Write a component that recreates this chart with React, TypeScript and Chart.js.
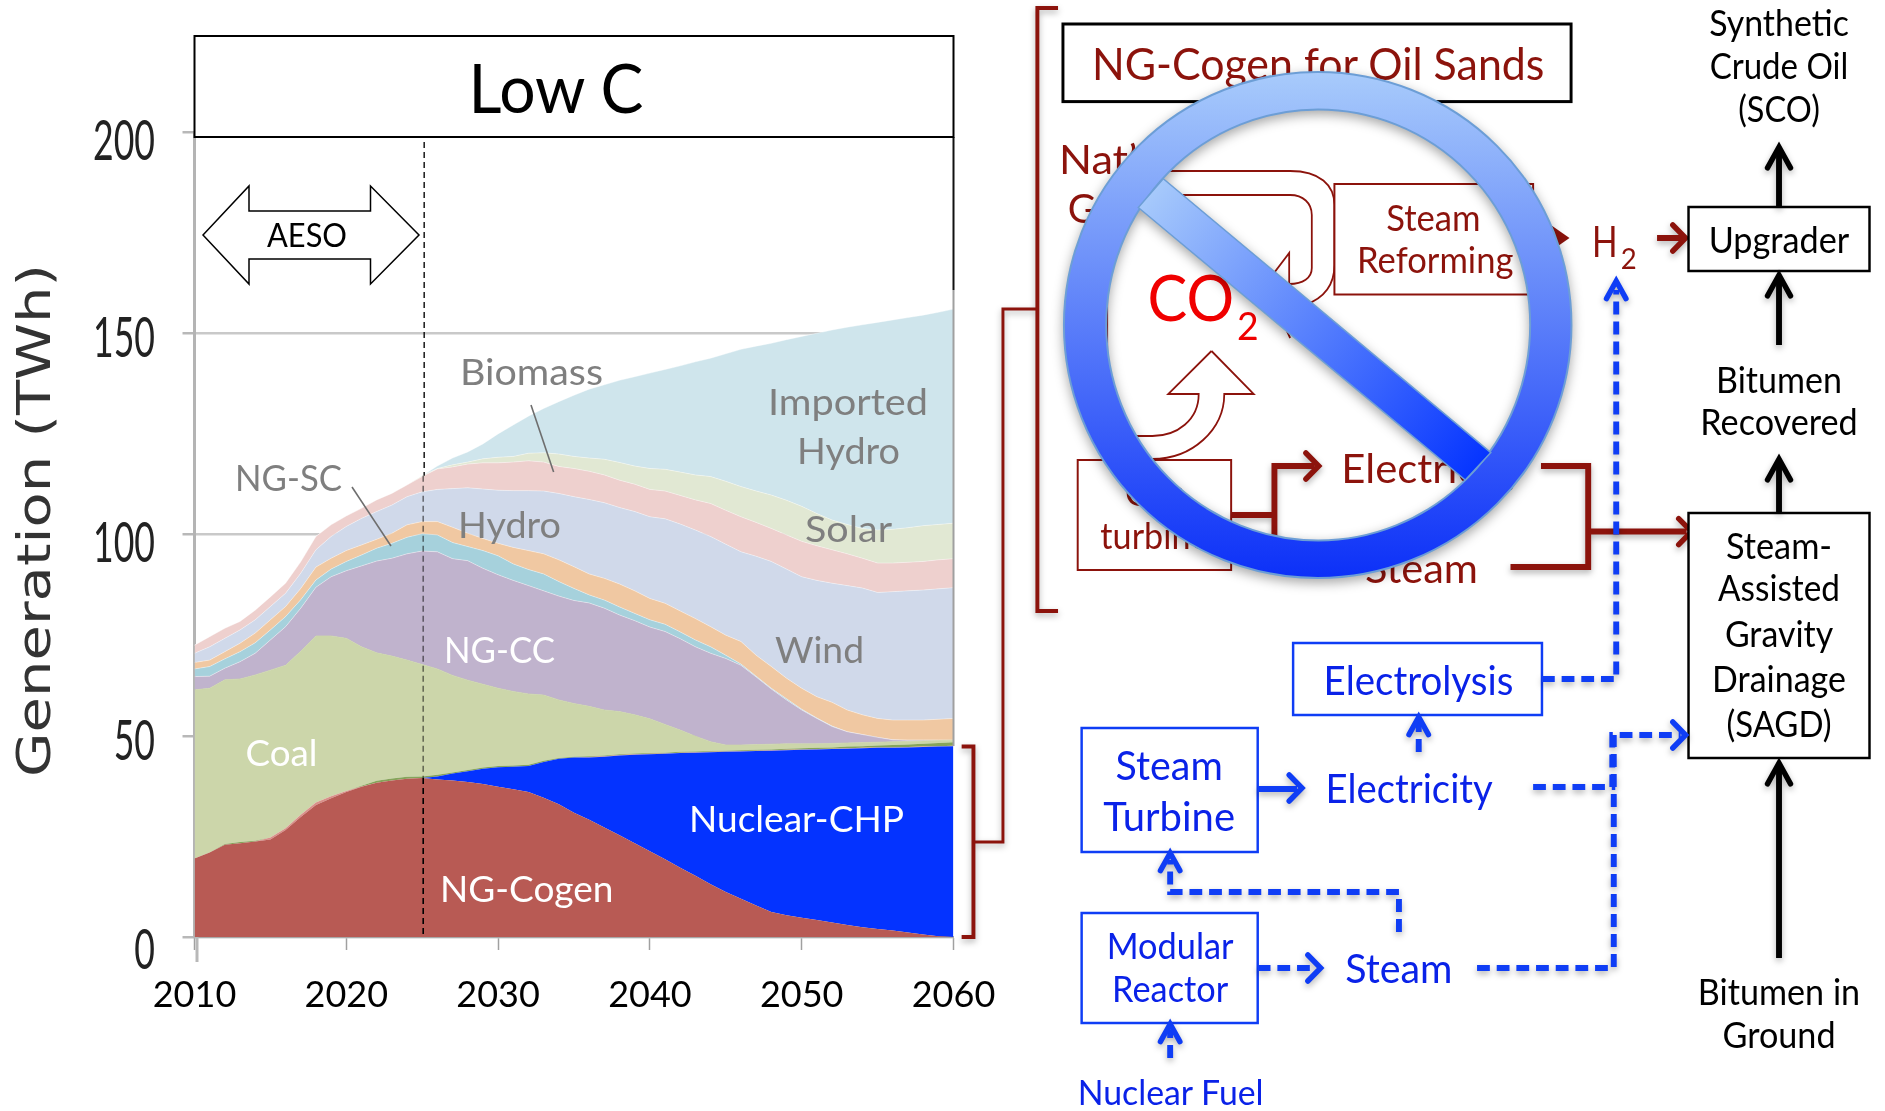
import React, { useEffect, useRef } from "react";
import { Chart, registerables } from "chart.js";

Chart.register(...registerables);

const years = [
  2010, 2011, 2012, 2013, 2014, 2015, 2016, 2017, 2018, 2019,
  2020, 2021, 2022, 2023, 2024, 2025, 2026, 2027, 2028, 2029,
  2030, 2031, 2032, 2033, 2034, 2035, 2036, 2037, 2038, 2039,
  2040, 2041, 2042, 2043, 2044, 2045, 2046, 2047, 2048, 2049,
  2050, 2051, 2052, 2053, 2054, 2055, 2056, 2057, 2058, 2059, 2060,
];

// Upper edge of each layer, in TWh
const ngCogenTop = [
  19.5, 21, 22.9, 23.3, 23.7, 24.2, 26.6, 29.8, 32.8, 34.5,
  36, 37.3, 38.3, 38.9, 39.3, 39.5, 39.1, 38.9, 38.5, 38,
  37.3, 36.7, 36, 34.6, 33, 30.9, 29.1, 27.2, 25.3, 23.3,
  21.3, 19.3, 17.2, 15.2, 13.1, 11.2, 9.5, 7.8, 6.2, 5.4,
  4.8, 4.2, 3.6, 3, 2.4, 2, 1.6, 1.1, 0.6, 0.2, 0,
];
const nuclearTop = [
  19.5, 21, 22.9, 23.3, 23.7, 24.2, 26.6, 29.8, 32.8, 34.5,
  36, 37.3, 38.3, 38.9, 39.3, 39.5, 39.9, 40.6, 41.2, 41.8,
  42.2, 42.3, 42.5, 43.5, 44.3, 44.6, 44.6, 44.8, 45.1, 45.3,
  45.4, 45.5, 45.7, 45.8, 45.9, 46, 46.1, 46.2, 46.3, 46.4,
  46.5, 46.6, 46.7, 46.8, 46.9, 47, 47, 47.1, 47.2, 47.3, 47.4,
];
const redBandTop = [
  19.5, 21, 22.9, 23.3, 23.7, 24.7, 27, 30.4, 33.4, 35,
  36.3, 37.4, 38.3, 38.9, 39.3, 39.5, 39.9, 40.6, 41.2, 41.8,
  42.2, 42.3, 42.5, 43.5, 44.3, 44.6, 44.7, 44.9, 45.2, 45.4,
  45.5, 45.6, 45.8, 45.9, 46, 46.1, 46.2, 46.3, 46.4, 46.5,
  46.6, 46.7, 46.8, 46.9, 47, 47.1, 47.1, 47.2, 47.3, 47.4, 47.5,
];
const greenBandTop = [
  19.5, 21, 23.1, 23.6, 23.9, 24.7, 27, 30.4, 33.4, 35,
  36.3, 37.6, 38.8, 39.4, 39.8, 39.9, 40.3, 40.9, 41.5, 42.1,
  42.5, 42.6, 42.8, 43.8, 44.5, 44.8, 44.9, 45.1, 45.4, 45.6,
  45.7, 45.8, 46, 46.1, 46.2, 46.3, 46.4, 46.5, 46.6, 46.8,
  46.9, 47, 47.1, 47.3, 47.4, 47.6, 47.7, 47.8, 48, 48.2, 48.4,
];
const coalTop = [
  61.4, 61.8, 63.9, 64.1, 65.1, 66.3, 67.5, 71, 74.8, 74.8,
  74.2, 72.1, 70.6, 69.8, 68.8, 67.7, 66.6, 65, 63.8, 62.8,
  61.8, 61, 60.4, 60.1, 58.9, 58, 57.3, 56.4, 56, 55.2,
  54.2, 52.8, 51.4, 49.9, 48.5, 47.7, 47.7, 47.8, 47.9, 48,
  48, 48, 48.1, 48.2, 48.3, 48.4, 48.5, 48.6, 48.7, 48.8, 48.9,
];
const ngCcTop = [
  64.7, 64.8, 66.8, 68.4, 70.5, 73.8, 77.1, 81.7, 86.9, 89.5,
  91, 92.2, 93.4, 94.1, 95.2, 95.9, 95.7, 94, 93.5, 91.6,
  90, 88.6, 87.3, 86, 84.7, 83.6, 83, 81.7, 80, 78.6,
  77, 75.9, 74.1, 72.1, 70.5, 69.2, 67.5, 64.6, 61.6, 58.9,
  56.4, 54.3, 52.3, 51, 50.3, 49.6, 49, 48.9, 48.9, 48.9, 48.9,
];
const ngScTop = [
  66.6, 67.2, 69.1, 70.9, 73.1, 76.3, 79.6, 83.8, 88.7, 91.4,
  93.3, 94.9, 96.6, 97.8, 99.3, 100.2, 99.9, 98, 97, 96,
  94.7, 92.7, 91.3, 90.2, 88.3, 86.6, 85, 83.7, 82, 80.4,
  78.8, 77.7, 75.8, 73.8, 72.1, 70, 67.8, 64.8, 61.8, 59.2,
  56.6, 54.4, 52.4, 51, 50.3, 49.6, 49, 48.9, 48.9, 48.9, 48.9,
];
const hydroTop = [
  68.2, 68.8, 70.9, 73, 75.5, 78.8, 82.1, 86.6, 91.9, 94.1,
  96, 97.4, 98.8, 100.3, 102.4, 103.2, 103.2, 101.8, 100.3, 99,
  97.8, 96.8, 96, 95.2, 93.7, 92, 90.2, 89.1, 87.7, 86,
  84.1, 82.9, 81, 79.1, 77.1, 75, 73.4, 70, 67.2, 64.3,
  61.8, 59.7, 58.3, 56.4, 55.2, 54.3, 53.9, 53.9, 53.9, 54.1, 54.3,
];
const windTop = [
  70.5, 72.1, 74.2, 76.3, 78.8, 82.1, 85.4, 90.4, 96.2, 99.5,
  102, 104, 105.7, 107.3, 109.4, 110.6, 111.2, 111.4, 111.6, 111.3,
  111, 110.9, 110.9, 110.8, 110.2, 109.4, 108.7, 107.9, 106.7, 105.7,
  104.4, 103.9, 102.6, 101.1, 99.5, 97.6, 95.7, 94.6, 93.3, 91.4,
  89.5, 88.6, 87.9, 87.3, 86.7, 85.6, 85.8, 86, 86.2, 86.5, 86.8,
];
const biomassTop = [
  72.5, 74.6, 76.7, 78.4, 81.2, 84.5, 87.9, 93.2, 99.5, 102.4,
  104.6, 106.5, 108.6, 110.2, 112.3, 114.4, 116.3, 116.8, 117.5, 117.8,
  117.8, 118, 118.3, 118, 116.9, 116.4, 115.7, 114.8, 113.5, 112.5,
  111.2, 110.8, 109.7, 108.6, 107.7, 106, 104.4, 103, 101.5, 99.9,
  98.3, 97.2, 96.2, 95.2, 94.1, 92.9, 92.9, 93.1, 93.3, 93.7, 94,
];
const solarTop = [
  72.5, 74.6, 76.7, 78.4, 81.2, 84.5, 87.9, 93.2, 99.5, 102.4,
  104.6, 106.5, 108.6, 110.2, 112.3, 114.6, 116.4, 117.3, 118, 118.8,
  119.2, 119.4, 120.2, 120.3, 120, 119.4, 119, 118.7, 117.9, 117,
  116.4, 116.2, 115.5, 114.8, 114.4, 113.2, 111.9, 110.8, 109.8, 108.5,
  107, 105.2, 103.6, 102.5, 101.5, 101.1, 101.3, 101.7, 102.2, 102.5, 102.8,
];
const importedHydroTop = [
  72.5, 74.6, 76.7, 78.4, 81.2, 84.5, 87.9, 93.2, 99.5, 102.4,
  104.6, 106.5, 108.6, 110.2, 112.3, 114.6, 117, 119, 120.5, 122.5,
  125, 127.2, 129.4, 131.3, 133, 134.6, 136.1, 137.2, 138.3, 139.2,
  140.1, 141, 141.9, 142.9, 143.8, 144.9, 146, 146.8, 147.5, 148.4,
  149.2, 150, 150.8, 151.5, 152.1, 152.7, 153.3, 153.9, 154.5, 155.2, 156,
];

const layers: [string, number[], string][] = [
  ["NG-Cogen", ngCogenTop, "#b85a54"],
  ["Nuclear-CHP", nuclearTop, "#0433ff"],
  ["Cogen retrofit", redBandTop, "#d98f89"],
  ["Other", greenBandTop, "#86a45a"],
  ["Coal", coalTop, "#ccd6aa"],
  ["NG-CC", ngCcTop, "#c0b3cd"],
  ["NG-SC", ngScTop, "#a6d1dc"],
  ["Hydro", hydroTop, "#f0c8a2"],
  ["Wind", windTop, "#d0d9ea"],
  ["Biomass", biomassTop, "#eed0ce"],
  ["Solar", solarTop, "#e1e8d3"],
  ["Imported Hydro", importedHydroTop, "#cfe5ec"],
];

const AESO_END_INDEX = 15;
const yAxisTicks = [0, 50, 100, 150, 200];
const yLabelDrop = [11, 4, 7, 3, 7];

const RED = "#8c130c";
const BLUE = "#0f3df5";
const TXT_BLUE = "#0a22e8";
const GREY = "#7f7f7f";
const FONT = "Lato, sans-serif";

type TProps = { x: number; y: number; w: number; size: number; fill?: string; children: React.ReactNode };
// x is the left edge of the text, w its width
function T({ x, y, w, size, fill = "#000", children }: TProps) {
  return (
    <text x={x} y={y} fontFamily={FONT} fontSize={size} fill={fill} textLength={w} lengthAdjust="spacingAndGlyphs">
      {children}
    </text>
  );
}
// c is the centre of the text
function C({ c, y, w, size, fill = "#000", children }: { c: number; y: number; w: number; size: number; fill?: string; children: React.ReactNode }) {
  return <T x={c - w / 2} y={y} w={w} size={size} fill={fill}>{children}</T>;
}

function Head({ x, y, dir, color, s = 13 }: { x: number; y: number; dir: "r" | "u"; color: string; s?: number }) {
  const d = dir === "r"
    ? `M${x - s},${y - s} L${x},${y} L${x - s},${y + s}`
    : `M${x - s * 0.9},${y + s * 1.6} L${x},${y} L${x + s * 0.9},${y + s * 1.6}`;
  return <path d={d} fill="none" stroke={color} strokeWidth={5.5} strokeLinecap="round" strokeLinejoin="miter" strokeDasharray="none" />;
}

function Overlay() {
  const shadow = { filter: "drop-shadow(0px 3px 3px rgba(0,0,0,0.3))" };
  const dash = "13 7";
  return (
    <svg width={1885} height={1111} style={{ position: "absolute", left: 0, top: 0 }}>
      <defs>
        <linearGradient id="ring" x1="0" y1="0" x2="0" y2="1">
          <stop offset="0" stopColor="#a8cbfb" />
          <stop offset="1" stopColor="#0c30f8" />
        </linearGradient>
        <linearGradient id="bar" gradientUnits="userSpaceOnUse" x1="1150" y1="190" x2="1490" y2="470">
          <stop offset="0" stopColor="#a8cbfb" />
          <stop offset="1" stopColor="#0433ff" />
        </linearGradient>
      </defs>

      {/* Axis title */}
      <text
        transform="translate(50,777) rotate(-90)"
        fontFamily="'DejaVu Sans', sans-serif"
        fontSize={47}
        fill="#333"
        textLength={513}
        lengthAdjust="spacingAndGlyphs"
        style={{ filter: "blur(0.7px)" }}
      >
        Generation (TWh)
      </text>

      {/* Frame of the plot */}
      <line x1={197} y1={937} x2={197} y2={962} stroke="#b8b8b8" strokeWidth={3} />
      <line x1={197} y1={107} x2={197} y2={137} stroke="#444" strokeWidth={2} />
      <line x1={953.5} y1={137} x2={953.5} y2={290} stroke="#111" strokeWidth={2} />
      <line x1={953.5} y1={290} x2={953.5} y2={746} stroke="#a0a0a0" strokeWidth={2} />
      <rect x={194.5} y={36} width={759} height={101} fill="#fff" stroke="#000" strokeWidth={2} />
      <C c={556} y={112.5} w={175} size={68}>Low C</C>

      <path
        d="M203,235 L249,186 L249,211 L370.5,211 L370.5,186 L419,235 L370.5,284 L370.5,259 L249,259 L249,284 Z"
        fill="#fff"
        stroke="#000"
        strokeWidth={1.5}
      />
      <C c={307} y={247} w={80} size={32}>AESO</C>

      {/* Labels of the layers */}
      <T x={460} y={385} w={143} size={37} fill={GREY}>Biomass</T>
      <T x={235} y={491} w={107} size={36} fill={GREY}>NG-SC</T>
      <T x={768} y={415} w={160} size={37} fill={GREY}>Imported</T>
      <T x={797} y={464} w={103} size={37} fill={GREY}>Hydro</T>
      <T x={805} y={541.5} w={87} size={37} fill={GREY}>Solar</T>
      <T x={458} y={538} w={103} size={37} fill={GREY}>Hydro</T>
      <T x={775} y={663} w={89} size={37} fill={GREY}>Wind</T>
      <T x={444} y={663} w={111} size={37} fill="#fff">NG-CC</T>
      <T x={245.5} y={766} w={72} size={37} fill="#fff">Coal</T>
      <T x={689} y={832} w={215} size={37} fill="#fff">Nuclear-CHP</T>
      <T x={440} y={902} w={173.5} size={37} fill="#fff">NG-Cogen</T>
      <line x1={531} y1={405} x2={553.6} y2={472} stroke="#6e6e6e" strokeWidth={1.6} />
      <line x1={352} y1={487} x2={391} y2={546} stroke="#6e6e6e" strokeWidth={1.6} />

      {/* Right-hand diagrams: drawn on a grid slightly wider than the page, so squeezed about x=1000 */}
      <g transform="translate(1000,0) scale(0.9836,1) translate(-1000,0)">
        {/* Brackets */}
        <g style={shadow}>
          <path d="M961,746.5 H973 V937 H961" fill="none" stroke={RED} strokeWidth={4} />
          <path d="M973,842 H1003 V309 H1037" fill="none" stroke={RED} strokeWidth={3} />
          <path d="M1059,8 H1038 V611 H1059" fill="none" stroke={RED} strokeWidth={4} />
        </g>

        {/* NG-Cogen diagram */}
        <rect x={1064} y={24} width={516.6} height={77.6} fill="#fff" stroke="#000" strokeWidth={3} />
        <T x={1093.5} y={80} w={460} size={44} fill={RED}>NG-Cogen for Oil Sands</T>
        <T x={1060} y={174} w={90} size={40} fill={RED}>Nat’l</T>
        <T x={1069} y={223} w={66} size={40} fill={RED}>Gas</T>

        <g fill="none" stroke={RED} strokeWidth={1.8}>
          <path d="M1166,171 H1295 C1325,171 1340,185 1340,205 V265 C1340,285 1330,298 1310,305" />
          <path d="M1186,195 H1295 C1308,195 1317,203 1317,215 V268 C1317,278 1308,284 1294,284 V253 L1270,284 L1295,338" />
          <path d="M1109,285 V395" />
          <path d="M1215,351 L1171,394 H1202 C1202,420 1180,436 1155,436 H1132" />
          <path d="M1215,351 L1258,394 H1228 C1228,430 1195,459 1155,459" />
        </g>
        <rect x={1340} y={184} width={202} height={110.5} fill="#fff" stroke={RED} strokeWidth={2} />
        <C c={1440.6} y={231} w={96} size={36} fill={RED}>Steam</C>
        <T x={1363} y={273.5} w={159} size={36} fill={RED}>Reforming</T>
        <path d="M1560,225 L1579,238 L1560,251 Z" fill={RED} />

        <rect x={1079} y={460} width={156} height={110} fill="#fff" stroke={RED} strokeWidth={2} />
        <C c={1157} y={506} w={60} size={36} fill={RED}>Gas</C>
        <T x={1102} y={549} w={110} size={36} fill={RED}>turbine</T>
        <T x={1347} y={483} w={186} size={40} fill={RED}>Electricity</T>
        <T x={1371} y={583} w={115} size={40} fill={RED}>Steam</T>
        <text x={1150} y={321} fontFamily={FONT} fontSize={64} fill="#f00000" textLength={88} lengthAdjust="spacingAndGlyphs">CO</text>
        <text x={1241} y={340} fontFamily={FONT} fontSize={38} fill="#f00000">2</text>

        <g style={shadow} fill="none" stroke={RED} strokeWidth={6}>
          <path d="M1235,515 H1279 M1279,540 V466 H1320" />
          <Head x={1324} y={466} dir="r" color={RED} />
          <path d="M1550,466 H1598 V567 H1519" />
          <path d="M1598,531.6 H1698" />
          <Head x={1703} y={531.6} dir="r" color={RED} />
          <path d="M1668,238 H1694" />
          <Head x={1697} y={238} dir="r" color={RED} />
        </g>
        <text x={1602} y={257} fontFamily={FONT} fontSize={42} fill={RED} textLength={26} lengthAdjust="spacingAndGlyphs">H</text>
        <text x={1631} y={269} fontFamily={FONT} fontSize={28} fill={RED}>2</text>

        {/* Oil-sands chain */}
        <rect x={1700} y={207} width={184} height={64} fill="#fff" stroke="#000" strokeWidth={2.5} />
        <rect x={1700} y={513} width={184} height={245} fill="#fff" stroke="#000" strokeWidth={2.5} />
        <C c={1792} y={253} w={143} size={37}>Upgrader</C>
        <C c={1792} y={35.6} w={142} size={36}>Synthetic</C>
        <C c={1792} y={79} w={141} size={36}>Crude Oil</C>
        <C c={1792} y={122.5} w={83} size={36}>(SCO)</C>
        <C c={1792} y={393} w={128} size={36}>Bitumen</C>
        <C c={1792} y={435} w={160} size={36}>Recovered</C>
        <C c={1792} y={559} w={108} size={36}>Steam-</C>
        <C c={1792} y={601} w={124} size={36}>Assisted</C>
        <C c={1792} y={647} w={110} size={36}>Gravity</C>
        <C c={1792} y={692} w={136} size={36}>Drainage</C>
        <C c={1792} y={737} w={107} size={36}>(SAGD)</C>
        <C c={1792} y={1005} w={165} size={36}>Bitumen in</C>
        <C c={1792} y={1048} w={115} size={36}>Ground</C>
        <g style={shadow} stroke="#000" fill="none" strokeWidth={6}>
          <path d="M1792,207 V150" />
          <Head x={1792} y={147} dir="u" color="#000" />
          <path d="M1792,345 V278" />
          <Head x={1792} y={275} dir="u" color="#000" />
          <path d="M1792,512 V462" />
          <Head x={1792} y={459} dir="u" color="#000" />
          <path d="M1792,958 V766" />
          <Head x={1792} y={763} dir="u" color="#000" />
        </g>

        {/* Nuclear diagram */}
        <rect x={1298} y={643} width={253} height={72} fill="#fff" stroke={BLUE} strokeWidth={2.5} />
        <T x={1329} y={695} w={193} size={40} fill={TXT_BLUE}>Electrolysis</T>
        <rect x={1083} y={728} width={179} height={124} fill="#fff" stroke={BLUE} strokeWidth={2.5} />
        <C c={1172} y={780} w={109} size={40} fill={TXT_BLUE}>Steam</C>
        <C c={1172} y={831} w={134} size={40} fill={TXT_BLUE}>Turbine</C>
        <rect x={1083} y={913} width={179} height={110} fill="#fff" stroke={BLUE} strokeWidth={2.5} />
        <C c={1173} y={959} w={129} size={36} fill={TXT_BLUE}>Modular</C>
        <C c={1173} y={1002} w={118} size={36} fill={TXT_BLUE}>Reactor</C>
        <T x={1331} y={803} w={170} size={40} fill={TXT_BLUE}>Electricity</T>
        <T x={1351} y={983} w={109} size={40} fill={TXT_BLUE}>Steam</T>
        <T x={1079} y={1105} w={189} size={34} fill={TXT_BLUE}>Nuclear Fuel</T>

        <g style={shadow} fill="none" stroke={BLUE} strokeWidth={6}>
          <path d="M1551,679 H1626.5 V290" strokeDasharray={dash} />
          <Head x={1626.5} y={281} dir="u" color={BLUE} s={11} />
          <path d="M1425.7,752 V722" strokeDasharray={dash} />
          <Head x={1425.7} y={717} dir="u" color={BLUE} s={11} />
          <path d="M1262,789 H1302" />
          <Head x={1307} y={788} dir="r" color={BLUE} />
          <path d="M1542,787 H1622.5 V735 H1692" strokeDasharray={dash} />
          <Head x={1697} y={735} dir="r" color={BLUE} />
          <path d="M1485,968 H1624 V735" strokeDasharray={dash} />
          <path d="M1262,968 H1320" strokeDasharray={dash} />
          <Head x={1326} y={968} dir="r" color={BLUE} />
          <path d="M1405.6,932 V892 H1173 V860" strokeDasharray={dash} />
          <Head x={1173} y={853} dir="u" color={BLUE} s={11} />
          <path d="M1173,1058 V1030" strokeDasharray={dash} />
          <Head x={1173} y={1024} dir="u" color={BLUE} s={11} />
        </g>

        {/* Prohibition sign */}
        <g style={{ filter: "drop-shadow(0px 4px 6px rgba(0,0,0,0.35))" }}>
          <path
            fillRule="evenodd"
            fill="url(#ring)"
            stroke="#6c9ed6"
            strokeWidth={2}
            d="M1065,325 a258,253 0 1,0 516,0 a258,253 0 1,0 -516,0 Z M1108,325 a215.5,215.5 0 1,0 431,0 a215.5,215.5 0 1,0 -431,0 Z"
          />
          <path d="M1140.6,207.5 L1166,178.7 L1499,452.6 L1473,480 Z" fill="url(#bar)" stroke="#6c9ed6" strokeWidth={1.5} />
        </g>
      </g>
    </svg>
  );
}

export default function App() {
  const ref = useRef<HTMLCanvasElement>(null);
  useEffect(() => {
    if (!ref.current) return;
    const overlays = {
      id: "overlays",
      afterDatasetsDraw(chart: any) {
        const { ctx, scales, chartArea } = chart;
        const x = scales.x.getPixelForValue(years[AESO_END_INDEX]) + 1;
        const stackTop = scales.y.getPixelForValue(importedHydroTop[AESO_END_INDEX]);
        const nuclear = scales.y.getPixelForValue(nuclearTop[AESO_END_INDEX]);
        const seg = (a: number, b: number, style: string, dx = 0) => {
          ctx.strokeStyle = style;
          ctx.beginPath();
          ctx.moveTo(x + dx, a);
          ctx.lineTo(x + dx, b);
          ctx.stroke();
        };
        ctx.save();
        ctx.setLineDash([6, 4]);
        ctx.lineWidth = 1.6;
        seg(chartArea.top, stackTop, "rgba(0,0,0,0.85)", 1);
        seg(stackTop, nuclear, "rgba(0,0,0,0.5)");
        seg(nuclear, chartArea.bottom, "#000");
        ctx.restore();
      },
      afterDraw(chart: any) {
        // The y labels of the reference are tall and narrow: draw them stretched
        const { ctx, scales } = chart;
        ctx.save();
        ctx.font = "57px Lato, sans-serif";
        ctx.fillStyle = "#222";
        ctx.textAlign = "right";
        ctx.textBaseline = "alphabetic";
        ctx.filter = "blur(0.6px)";
        yAxisTicks.forEach((v, i) => {
          ctx.save();
          ctx.translate(155, scales.y.getPixelForValue(v) + yLabelDrop[i] + 20.5);
          ctx.scale(0.625, 1);
          ctx.fillText(String(v), 0, 0);
          ctx.restore();
        });
        ctx.restore();
      },
    };
    const chart = new Chart(ref.current, {
      type: "line",
      data: {
        datasets: layers.map(([label, top, color], i) => ({
          label,
          data: years.map((x, j) => ({ x, y: top[j] })),
          backgroundColor: color,
          borderColor: i < 5 ? color : "rgba(255,255,255,0.55)",
          borderWidth: i < 4 ? 0 : 0.7,
          pointRadius: 0,
          tension: 0,
          fill: i === 0 ? "origin" : "-1",
        })),
      },
      plugins: [overlays],
      options: {
        animation: false,
        responsive: false,
        layout: { autoPadding: false, padding: { left: 0, right: 931.5, top: 132, bottom: 0 } },
        plugins: { legend: { display: false }, tooltip: { enabled: false } },
        scales: {
          x: {
            type: "linear",
            min: 2010,
            max: 2060,
            afterFit: (s: any) => { s.height = 174; },
            border: { color: "#a8a8a8", width: 2 },
            grid: { drawOnChartArea: false, tickLength: 13, tickColor: "#a0a0a0", tickWidth: 1.5 },
            ticks: {
              stepSize: 10,
              maxRotation: 0,
              padding: 24,
              color: "#000",
              font: { family: FONT, size: 36 },
              callback: (v: any) => String(v),
            },
          },
          y: {
            type: "linear",
            min: 0,
            max: 200,
            afterFit: (s: any) => { s.width = 194.5; },
            afterBuildTicks: (s: any) => { s.ticks = yAxisTicks.map((value) => ({ value })); },
            border: { color: "#b4b4b4", width: 3 },
            grid: { color: "#c9c9c9", lineWidth: 2.5, tickLength: 12, tickColor: "#b8b8b8" },
            ticks: { display: false },
          },
        },
      } as any,
    });
    return () => chart.destroy();
  }, []);
  return (
    <div style={{ position: "absolute", left: 0, top: 0, width: 1885, height: 1111, background: "#fff", overflow: "hidden" }}>
      <canvas ref={ref} width={1885} height={1111} style={{ position: "absolute", left: 0, top: 0 }} />
      <Overlay />
    </div>
  );
}
